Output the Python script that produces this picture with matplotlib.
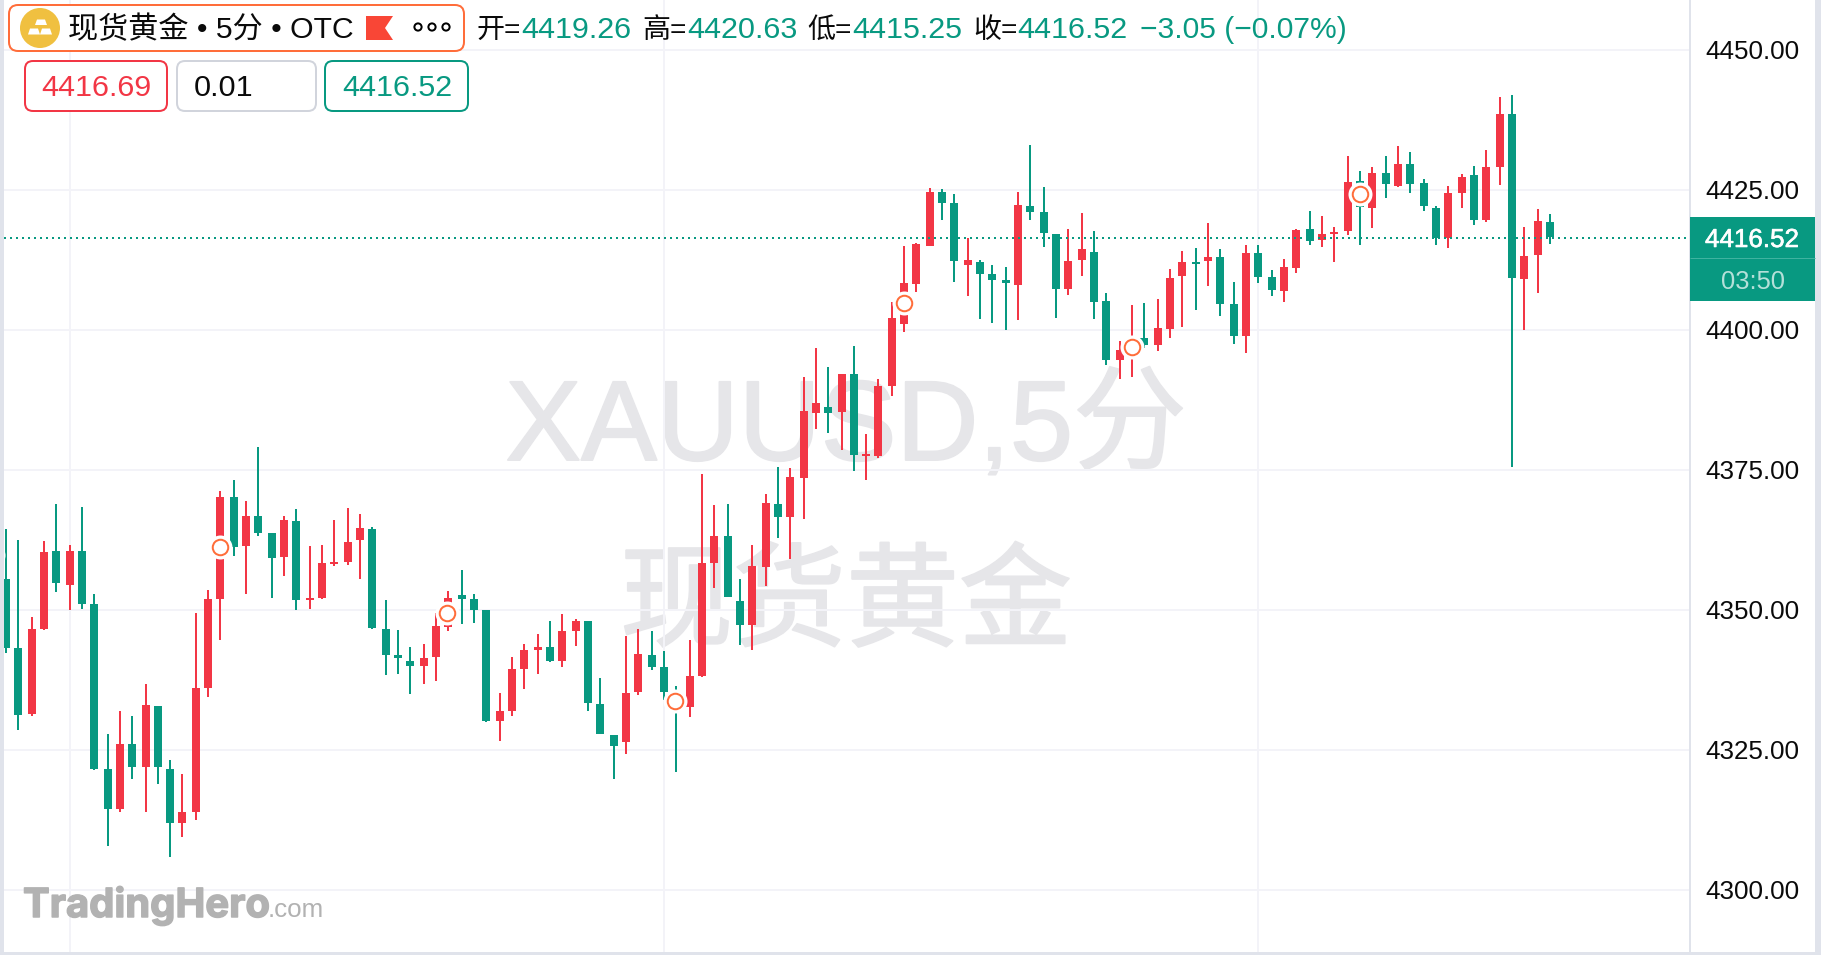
import numpy as np
import matplotlib
matplotlib.use("Agg")
import matplotlib.pyplot as plt
import matplotlib.patheffects as pe
import matplotlib.transforms as mtrans
from matplotlib.patches import FancyBboxPatch, Polygon, Circle, Rectangle

# 5 minute candles
open_ = [4355.48, 4343.16, 4331.37, 4346.55, 4360.48, 4354.41, 4360.48, 4351.01, 4321.55, 4314.41,
         4326.01, 4321.91, 4332.80, 4321.55, 4311.91, 4313.87, 4336.01, 4351.91, 4370.12, 4361.37,
         4366.73, 4363.69, 4359.41, 4365.84, 4351.73, 4352.09, 4358.16, 4358.51, 4362.44, 4364.41,
         4346.55, 4341.91, 4340.84, 4339.94, 4341.55, 4346.91, 4352.63, 4351.91, 4349.95, 4330.13,
         4331.91, 4339.41, 4342.81, 4343.34, 4340.84, 4346.20, 4347.99, 4333.16, 4327.63, 4326.38,
         4335.31, 4341.91, 4339.77, 4334.18, 4332.63, 4338.16, 4358.34, 4363.16, 4351.56, 4347.27,
         4357.63, 4368.88, 4366.56, 4373.52, 4385.12, 4386.19, 4385.30, 4392.09, 4377.45, 4377.45,
         4389.95, 4401.02, 4408.16, 4414.95, 4424.59, 4422.62, 4411.55, 4412.09, 4409.95, 4408.87,
         4407.98, 4422.09, 4421.02, 4417.09, 4407.27, 4412.45, 4413.87, 4405.12, 4394.59, 4396.08,
         4398.52, 4397.27, 4400.12, 4409.59, 4412.09, 4412.27, 4412.98, 4404.59, 4398.87, 4413.70,
         4409.41, 4406.91, 4411.02, 4417.98, 4416.02, 4417.09, 4417.63, 4426.55, 4421.73, 4427.98,
         4425.66, 4429.59, 4426.20, 4421.73, 4416.38, 4424.41, 4427.63, 4419.59, 4429.05, 4438.52,
         4409.05, 4413.34, 4419.26]
high = [4364.41, 4362.44, 4348.69, 4362.26, 4368.87, 4361.55, 4368.34, 4352.80, 4327.80, 4331.91,
        4331.01, 4336.73, 4332.80, 4323.16, 4320.66, 4349.41, 4353.51, 4371.19, 4373.16, 4369.41,
        4379.05, 4363.69, 4366.73, 4367.98, 4361.37, 4361.55, 4366.01, 4368.16, 4367.09, 4364.76,
        4351.73, 4346.37, 4343.34, 4343.87, 4349.41, 4353.34, 4357.09, 4352.81, 4349.95, 4335.13,
        4341.56, 4343.88, 4345.66, 4347.99, 4349.24, 4348.34, 4347.99, 4337.81, 4327.63, 4345.31,
        4346.56, 4346.20, 4342.63, 4336.38, 4344.59, 4374.24, 4368.70, 4368.88, 4355.49, 4361.56,
        4370.66, 4375.49, 4375.31, 4391.55, 4396.73, 4393.34, 4392.09, 4397.09, 4381.38, 4391.19,
        4404.95, 4414.95, 4415.48, 4425.30, 4425.12, 4424.23, 4416.37, 4412.45, 4411.55, 4411.20,
        4424.59, 4432.98, 4425.48, 4417.09, 4417.98, 4420.84, 4417.62, 4406.55, 4397.98, 4404.41,
        4404.77, 4405.48, 4410.84, 4414.05, 4414.59, 4419.05, 4414.41, 4408.52, 4415.12, 4415.12,
        4410.66, 4412.62, 4417.98, 4421.20, 4420.30, 4418.34, 4431.02, 4428.34, 4429.05, 4431.02,
        4432.80, 4431.73, 4426.91, 4422.09, 4425.66, 4427.80, 4429.23, 4432.09, 4441.55, 4441.91,
        4418.34, 4421.55, 4420.63]
low = [4342.26, 4328.51, 4331.01, 4346.37, 4353.16, 4349.94, 4350.12, 4321.37, 4307.80, 4313.87,
       4319.76, 4313.87, 4318.87, 4305.84, 4309.41, 4312.44, 4334.41, 4344.59, 4359.59, 4352.80,
       4363.16, 4352.09, 4356.01, 4349.94, 4350.12, 4351.91, 4357.80, 4357.98, 4355.48, 4346.55,
       4338.34, 4338.51, 4334.94, 4336.73, 4337.26, 4346.20, 4347.45, 4347.63, 4329.95, 4326.56,
       4331.02, 4335.84, 4338.52, 4340.66, 4339.77, 4343.52, 4331.91, 4327.81, 4319.77, 4324.24,
       4334.77, 4339.24, 4333.88, 4321.02, 4330.84, 4337.99, 4353.88, 4352.27, 4343.70, 4342.81,
       4354.24, 4362.81, 4359.06, 4366.20, 4382.27, 4381.55, 4378.52, 4374.77, 4373.16, 4377.09,
       4388.16, 4399.59, 4406.73, 4414.95, 4419.59, 4408.52, 4406.02, 4401.91, 4401.20, 4399.95,
       4401.73, 4419.59, 4414.77, 4402.09, 4406.20, 4409.59, 4401.91, 4393.70, 4391.20, 4391.55,
       4396.73, 4396.20, 4398.52, 4400.48, 4403.52, 4407.80, 4402.45, 4397.45, 4395.84, 4408.34,
       4406.02, 4404.95, 4410.12, 4415.12, 4414.77, 4412.09, 4416.91, 4415.13, 4418.16, 4423.52,
       4425.48, 4424.41, 4421.20, 4415.13, 4414.59, 4421.73, 4418.70, 4419.23, 4425.84, 4375.48,
       4399.95, 4406.55, 4415.25]
close = [4343.16, 4331.19, 4346.55, 4360.30, 4354.76, 4360.48, 4351.01, 4321.55, 4314.41, 4326.01,
         4321.91, 4332.98, 4321.91, 4311.91, 4313.87, 4336.01, 4351.91, 4370.12, 4361.19, 4366.73,
         4363.69, 4359.23, 4366.01, 4351.73, 4352.09, 4358.34, 4358.51, 4362.09, 4364.59, 4346.73,
         4341.91, 4341.37, 4339.94, 4341.37, 4347.09, 4352.09, 4351.91, 4349.95, 4330.13, 4331.91,
         4339.41, 4342.81, 4343.34, 4340.84, 4346.20, 4347.99, 4333.34, 4327.81, 4325.66, 4335.13,
         4342.09, 4339.77, 4335.31, 4333.28, 4338.16, 4358.34, 4363.16, 4352.27, 4347.27, 4357.81,
         4369.06, 4366.56, 4373.70, 4385.48, 4386.91, 4385.12, 4392.09, 4377.63, 4377.81, 4389.94,
         4402.09, 4408.34, 4415.30, 4424.59, 4422.62, 4412.27, 4412.45, 4409.95, 4408.87, 4408.34,
         4422.27, 4421.02, 4417.27, 4407.27, 4412.27, 4414.41, 4404.95, 4394.59, 4396.37, 4397.56,
         4397.27, 4400.30, 4409.23, 4412.09, 4411.73, 4412.98, 4404.59, 4398.87, 4413.70, 4409.41,
         4407.09, 4411.20, 4417.80, 4415.84, 4417.09, 4417.45, 4426.38, 4421.97, 4427.98, 4426.02,
         4429.59, 4426.02, 4422.09, 4416.38, 4424.41, 4427.27, 4419.59, 4429.05, 4438.52, 4409.23,
         4413.16, 4419.41, 4416.52]

# the orange rings on the candles, one every 18 bars
ring_idx = [-1, 17, 35, 53, 71, 89, 107]
ring_price = [4359.77, 4361.13, 4349.41, 4333.70, 4404.71, 4396.97, 4424.23]

price_ticks = [4300, 4325, 4350, 4375, 4400, 4425, 4450]
time_grid_idx = [5, 52, 99]
last_price = 4416.52
countdown = "03:50"
bid_text = "4416.69"
spread_text = "0.01"
ask_text = "4416.52"
title_text = "现货黄金 • 5分 • OTC"
ohlc_labels = ["开=", "高=", "低=", "收="]
ohlc_values = ["4419.26", "4420.63", "4415.25", "4416.52"]
change_text = "−3.05 (−0.07%)"

W, H = 1821, 955
RED = "#f23645"
GREEN = "#089981"
ORANGE = "#ff6d3a"
BORDER = "#e0e3eb"
GRID = "#f3f3f8"
INK = "#0a0a0a"
MARK = "#e6e6e9"
FONT = ["Liberation Sans", "Noto Sans CJK SC"]
PX = 0.72  # points per pixel at dpi 100
BAR_W = 12.655
BAR_0 = 5.8

fig = plt.figure(figsize=(W / 100, H / 100), dpi=100, facecolor=BORDER)
# white strip behind the price labels
fig.add_artist(Rectangle((1690 / W, 1 - 952 / H), 125 / W, 952 / H, transform=fig.transFigure,
                         fc="white", ec="none", zorder=-1))

# price pane, pixels 4..1690 across and 0..952 down
ax = fig.add_axes([4 / W, 1 - 952 / H, (1690 - 4) / W, 952 / H], facecolor="white")
ax.set_xlim((4 - BAR_0) / BAR_W, (1690 - BAR_0) / BAR_W)
ax.set_ylim(4400 - (952 - 329.7) / 5.6, 4400 + 329.7 / 5.6)

# overlay in plain pixels for the header and labels
ui = fig.add_axes([0, 0, 1, 1], facecolor="none", zorder=5)
ui.set_xlim(0, W)
ui.set_ylim(H, 0)
ui.axis("off")

# candles sit on even pixels in the original
n = len(close)
idx = np.arange(n)
pts = ax.transData.transform(np.c_[idx, np.full(n, 4400.0)])
pts[:, 0] = 2 * np.round(pts[:, 0] / 2)
xs = ax.transData.inverted().transform(pts)[:, 0]

open_arr, close_arr = np.array(open_), np.array(close)
colors = [RED if c >= o else GREEN for o, c in zip(open_arr, close_arr)]
body_low = np.minimum(open_arr, close_arr)
body_h = np.maximum(np.abs(close_arr - open_arr), 2 / 5.6)

thick = [pe.withStroke(linewidth=2 * PX, foreground=MARK)]
ax.text(846, 460, "XAUUSD,5分", transform=ui.transData, family=FONT, fontsize=113.5 * PX,
        color=MARK, ha="center", va="baseline", zorder=0.5, path_effects=thick)
ax.text(846, 637.5, "现货黄金", transform=ui.transData, family=FONT, fontsize=113 * PX,
        color=MARK, ha="center", va="baseline", zorder=0.5, path_effects=thick)

ax.set_axisbelow(True)
ax.set_yticks(price_ticks)
ax.set_yticklabels(["%.2f" % p for p in price_ticks], family=FONT, fontsize=26 * PX, color=INK)
ax.yaxis.tick_right()
ax.tick_params(axis="y", length=0, pad=15.5 * PX)
ax.set_xticks([xs[i] for i in time_grid_idx])
ax.tick_params(axis="x", length=0, labelbottom=False)
ax.grid(True, color=GRID, lw=2 * PX)
for name in ["top", "left", "bottom"]:
    ax.spines[name].set_visible(False)
ax.spines["right"].set_color(BORDER)
ax.spines["right"].set_linewidth(2 * PX)

ax.vlines(xs, low, high, colors=colors, lw=2 * PX, zorder=2)
ax.bar(xs, body_h, width=8 / BAR_W, bottom=body_low, color=colors, lw=0, zorder=3)
# the dotted line sits one pixel lower on the screen than the snapped price
down_1px = mtrans.offset_copy(ax.get_yaxis_transform(), fig=fig, y=-1, units="dots")
ax.plot([0, 1], [last_price, last_price], color=GREEN, lw=2 * PX, ls=(0, (1, 2)), zorder=4,
        transform=down_1px, scalex=False, scaley=False)

# rings follow the snapped candles, the first one belongs to a bar off the left edge
ring_x = [xs[i] - 0.5 / BAR_W if i >= 0 else i for i in ring_idx]
ax.plot(ring_x, ring_price, ls="none", marker="o", ms=24 * PX, mfc="white", mec="none", zorder=5)
ax.plot(ring_x, ring_price, ls="none", marker="o", ms=15.5 * PX, mfc="white", mec=ORANGE,
        mew=2 * PX, zorder=6)


def box(x0, y0, x1, y1, edge, radius=8, fill="white", lw=2):
    ui.add_patch(FancyBboxPatch((x0, y0), x1 - x0, y1 - y0,
                                boxstyle="round,pad=0,rounding_size=%d" % radius,
                                fc=fill, ec=edge, lw=lw * PX))


def label(x, y, s, color=INK, size=30.5, ha="left", alpha=None):
    return ui.text(x, y, s, family=FONT, fontsize=size * PX, color=color, ha=ha, va="baseline",
                   alpha=alpha)


# title chip
box(9, 5, 464, 51, ORANGE, radius=9)
ui.add_patch(Circle((40, 28), 20, fc="#f0c040", ec="none"))
ui.add_patch(Polygon([(37, 19.5), (45, 19.5), (47, 25), (35, 25)], fc="white", ec="none"))
ui.add_patch(Polygon([(30, 28.5), (38, 28.5), (40, 34.5), (28, 34.5)], fc="white", ec="none"))
ui.add_patch(Polygon([(42, 28.5), (50, 28.5), (52, 34.5), (40, 34.5)], fc="white", ec="none"))
label(68, 38, title_text, size=30.1)
ui.add_patch(Polygon([(366, 16), (393, 16), (385, 28), (393, 40), (366, 40)], fc="#f94636", ec="none"))
for cx in [418, 432, 446]:
    ui.add_patch(Circle((cx, 27), 3.6, fc="white", ec="black", lw=2 * PX))

# OHLC row
for x, s in zip([477, 642, 807, 973], ohlc_labels):
    label(x, 38, s, size=28)
for x, s in zip([521.5, 687, 852, 1017.5], ohlc_values):
    label(x, 38, s, color=GREEN)
label(1139.5, 38, change_text, color=GREEN, size=30)

# order boxes
box(25, 61, 167, 111, RED)
box(177, 61, 316, 111, "#d1d4dc")
box(325, 61, 468, 111, GREEN)
label(41.5, 96, bid_text, color=RED)
label(194, 96, spread_text)
label(342, 96, ask_text, color=GREEN)

# last price tag on the axis
ui.add_patch(Rectangle((1690, 217), 125, 84, fc=GREEN, ec="none"))
ui.plot([1690, 1815], [258.5, 258.5], color="#3fb3a0", lw=1 * PX, solid_capstyle="butt")
tag = label(1752, 247, "%.2f" % last_price, color="white", size=26, ha="center")
tag.set_path_effects([pe.withStroke(linewidth=0.6 * PX, foreground="white")])
label(1752.5, 289, countdown, color="white", size=25.5, ha="center", alpha=0.7)

# logo
heavy = [pe.withStroke(linewidth=1.5 * PX, foreground="#b2b2b2")]
ui.text(23, 917, "TradingHero", family="Inter", weight="bold", fontsize=40 * PX, color="#b2b2b2",
        va="baseline", path_effects=heavy)
ui.text(268, 917, ".com", family="Liberation Sans", fontsize=26 * PX, color="#b2b2b2", va="baseline")

fig.savefig("out.png", dpi=100, facecolor=fig.get_facecolor())
